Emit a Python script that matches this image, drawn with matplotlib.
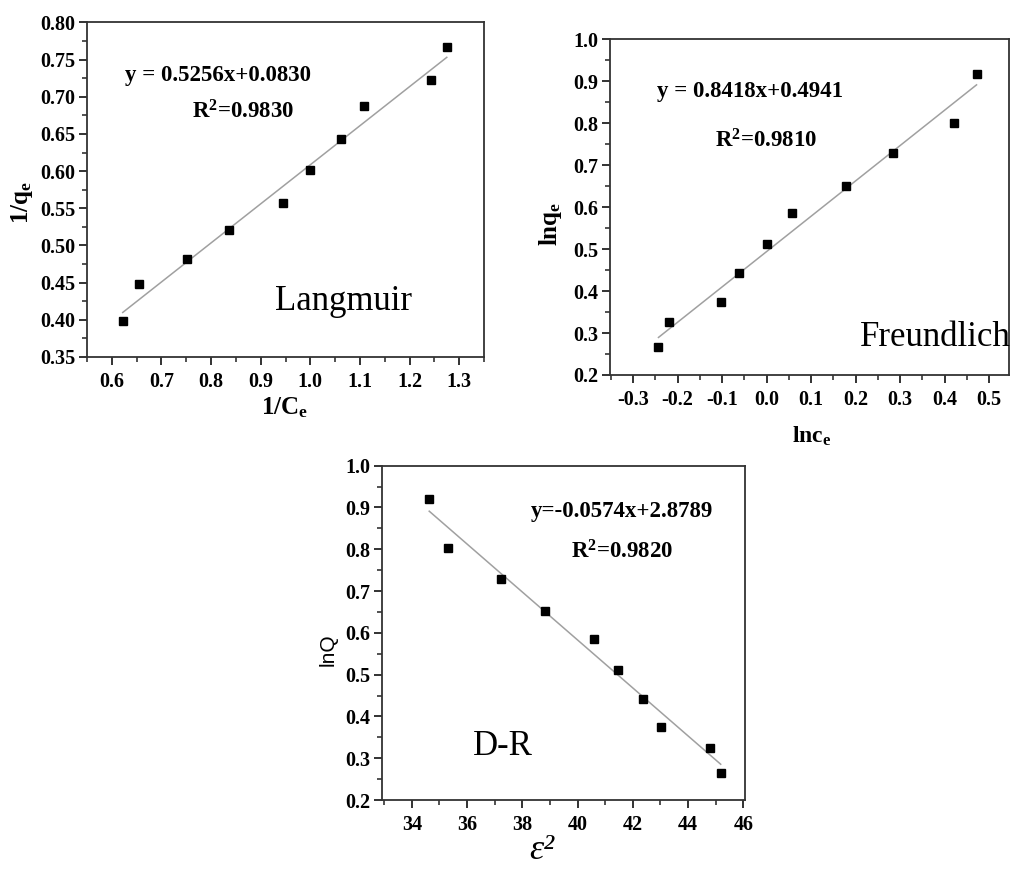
import matplotlib
matplotlib.use("Agg")
import matplotlib.pyplot as plt
import numpy as np
from matplotlib.ticker import MultipleLocator, FormatStrFormatter

# ---------------- data ----------------
lang_x = [0.622, 0.655, 0.751, 0.836, 0.945, 1.000, 1.062, 1.109, 1.244, 1.275]
lang_y = [0.398, 0.448, 0.482, 0.521, 0.557, 0.601, 0.643, 0.687, 0.723, 0.767]
lang_slope, lang_icpt = 0.5256, 0.0830

freu_x = [-0.243, -0.219, -0.103, -0.061, 0.000, 0.058, 0.178, 0.285, 0.422, 0.472]
freu_y = [0.266, 0.326, 0.375, 0.442, 0.511, 0.585, 0.651, 0.730, 0.801, 0.917]
freu_slope, freu_icpt = 0.8418, 0.4941

dr_x = [34.63, 35.30, 37.23, 38.81, 40.61, 41.48, 42.38, 43.02, 44.78, 45.18]
dr_y = [0.920, 0.804, 0.728, 0.653, 0.585, 0.511, 0.441, 0.374, 0.325, 0.264]
dr_slope, dr_icpt = -0.0574, 2.8789

W, H = 1010, 871
fig = plt.figure(figsize=(W / 100, H / 100), dpi=100)
SERIF = ['Liberation Serif', 'DejaVu Serif']
plt.rcParams['font.family'] = SERIF
plt.rcParams['mathtext.default'] = 'regular'


def add_axes(l, t, r, b):
    return fig.add_axes([l / W, 1 - b / H, (r - l) / W, (b - t) / H])


def style(ax, xmaj, xmin, ymaj, ymin, xfmt, yfmt):
    ax.xaxis.set_major_locator(MultipleLocator(xmaj))
    ax.xaxis.set_minor_locator(MultipleLocator(xmin))
    ax.yaxis.set_major_locator(MultipleLocator(ymaj))
    ax.yaxis.set_minor_locator(MultipleLocator(ymin))
    ax.xaxis.set_major_formatter(FormatStrFormatter(xfmt))
    ax.yaxis.set_major_formatter(FormatStrFormatter(yfmt))
    ax.tick_params(which='major', direction='out', length=5.5, width=1.3,
                   labelsize=14.5, top=False, right=False, color='#222222')
    ax.tick_params(axis='x', which='major', pad=5)
    ax.tick_params(axis='y', which='major', pad=3)
    ax.tick_params(which='minor', direction='out', length=3.5, width=1.1,
                   top=False, right=False, color='#222222')
    for lab in ax.get_xticklabels() + ax.get_yticklabels():
        lab.set_fontweight('bold')
        lab.set_family(SERIF)
    for s in ax.spines.values():
        s.set_linewidth(1.3)
        s.set_color('#333333')


def panel(ax, xs, ys, slope, icpt):
    xs = np.array(xs)
    xl = np.array([xs.min(), xs.max()])
    ax.plot(xl, slope * xl + icpt, color='#a0a0a0', lw=1.1, zorder=2)
    ax.plot(xs, ys, 's', color='black', ms=5.5, zorder=3)


def ftext(x, y, s, **kw):
    fig.text(x / W, 1 - y / H, s, ha='center', va='center', **kw)


# ---------- Langmuir ----------
ax1 = add_axes(87, 22.5, 484, 357)
panel(ax1, lang_x, lang_y, lang_slope, lang_icpt)
ax1.set_xlim(0.55, 1.35)
ax1.set_ylim(0.35, 0.80)
style(ax1, 0.1, 0.05, 0.05, 0.025, '%.1f', '%.2f')
ftext(218, 75, 'y = 0.5256x+0.0830', fontsize=16.5, fontweight='bold')
ftext(243, 112, r'R$^{2}$=0.9830', fontsize=16.5, fontweight='bold')
ftext(344, 302, 'Langmuir', fontsize=25)
ftext(285, 408, r'1/C$_{e}$', fontsize=18, fontweight='bold')
ftext(22, 203, r'1/q$_{e}$', fontsize=18, fontweight='bold', rotation=90)

# ---------- Freundlich ----------
ax2 = add_axes(610, 39.3, 1009, 375)
panel(ax2, freu_x, freu_y, freu_slope, freu_icpt)
ax2.set_xlim(-0.352, 0.545)
ax2.set_ylim(0.2, 1.0)
style(ax2, 0.1, 0.05, 0.1, 0.05, '%.1f', '%.1f')
ftext(750, 92, 'y = 0.8418x+0.4941', fontsize=16.5, fontweight='bold')
ftext(766, 141, r'R$^{2}$=0.9810', fontsize=16.5, fontweight='bold')
ftext(935, 337, 'Freundlich', fontsize=25)
ftext(812, 436, r'lnc$_{e}$', fontsize=17, fontweight='bold')
ftext(551, 224, r'lnq$_{e}$', fontsize=18, fontweight='bold', rotation=90)

# ---------- D-R ----------
ax3 = add_axes(381.7, 465.7, 745, 800)
panel(ax3, dr_x, dr_y, dr_slope, dr_icpt)
ax3.set_xlim(32.91, 46.06)
ax3.set_ylim(0.2, 1.0)
style(ax3, 2, 1, 0.1, 0.05, '%d', '%.1f')
ftext(622, 512, 'y=-0.0574x+2.8789', fontsize=16.5, fontweight='bold')
ftext(622, 552, r'R$^{2}$=0.9820', fontsize=16.5, fontweight='bold')
ftext(503, 746, 'D-R', fontsize=25)
ftext(542, 850, 'ε²', fontsize=26, fontstyle='italic')
ftext(328, 650, 'lnQ', fontsize=15, rotation=90, family=['Liberation Sans', 'DejaVu Sans'])

fig.savefig('out.png', dpi=100, facecolor='white')
